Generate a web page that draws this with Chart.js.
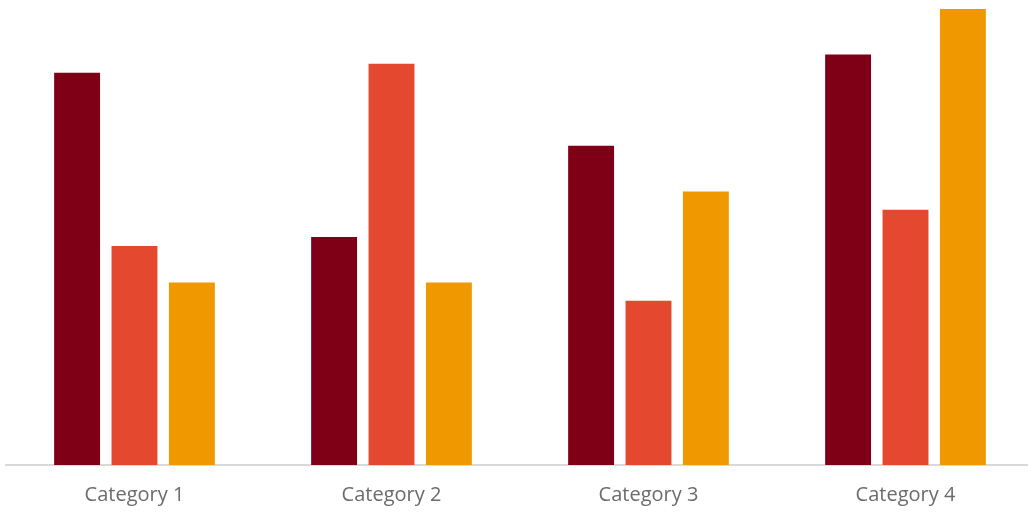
<!DOCTYPE html>
<html>
<head>
<meta charset="utf-8">
<script src="https://cdn.jsdelivr.net/npm/chart.js@4/dist/chart.umd.min.js"></script>
<style>
  html, body { margin: 0; padding: 0; background: #fff; overflow: hidden; }
  #wrap { position: relative; width: 1034px; height: 533px; }
</style>
</head>
<body>
<div id="wrap"><canvas id="chart"></canvas></div>
<script>
// chart values
var categories = ['Category 1', 'Category 2', 'Category 3', 'Category 4'];
var series1 = [4.3, 2.5, 3.5, 4.5];
var series2 = [2.4, 4.4, 1.8, 2.8];
var series3 = [2, 2, 3, 5];

var ctx = document.getElementById('chart').getContext('2d');
new Chart(ctx, {
  type: 'bar',
  data: {
    labels: categories,
    datasets: [
      { label: 'Series 1', data: series1, backgroundColor: '#7F0016' },
      { label: 'Series 2', data: series2, backgroundColor: '#E4492F' },
      { label: 'Series 3', data: series3, backgroundColor: '#F09800' }
    ]
  },
  options: {
    responsive: true,
    maintainAspectRatio: false,
    animation: false,
    layout: { padding: { left: 6, right: 0, top: 9, bottom: 8 } },
    plugins: { legend: { display: false }, tooltip: { enabled: false } },
    datasets: { bar: { barPercentage: 0.8, categoryPercentage: 0.67 } },
    scales: {
      x: {
        grid: { display: false, drawTicks: false, tickLength: 0 },
        border: { display: true, color: '#D9D9D9', width: 2 },
        ticks: { color: '#6B6B6B', font: { family: 'Open Sans', size: 20 }, padding: 18 }
      },
      y: { display: false, min: 0, max: 5 }
    }
  }
});
</script>
</body>
</html>
